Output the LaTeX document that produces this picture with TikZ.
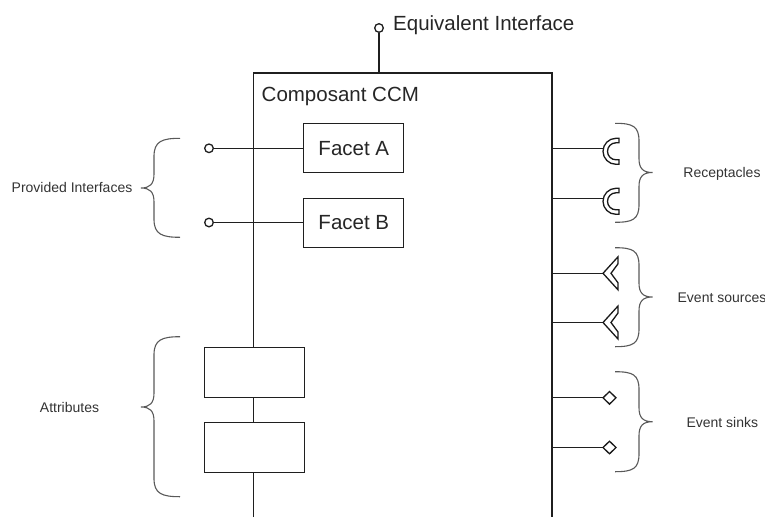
\documentclass[tikz,border=0pt]{standalone}
\usepackage{fontspec}
\setmainfont{Liberation Sans}
\newcommand\bigtxt{\fontsize{20.5}{24}\selectfont}
\newcommand\smtxt{\fontsize{14}{17}\selectfont}
\newcommand\mylbr[3]{\draw[bracestyle] (180,#1) .. controls (162,#1) and (154,#1+3) .. (154,#1+18) -- (154,#2-14) .. controls (154,#2-4) and (150,#2) .. (141,#2) .. controls (150,#2) and (154,#2+4) .. (154,#2+14) -- (154,#3-18) .. controls (154,#3-3) and (162,#3) .. (180,#3);}
\newcommand\myrbr[3]{\draw[bracestyle] (615,#1) .. controls (633,#1) and (639,#1+3) .. (639,#1+18) -- (639,#2-14) .. controls (639,#2-4) and (643,#2) .. (652.5,#2) .. controls (643,#2) and (639,#2+4) .. (639,#2+14) -- (639,#3-18) .. controls (639,#3-3) and (633,#3) .. (615,#3);}
\begin{document}
\begin{tikzpicture}[x=1pt,y=-1pt,
  wire/.style={draw=black!88, line width=1.1pt},
  fbox/.style={draw=black!88, line width=1pt, fill=white, minimum width=100pt, minimum height=49pt, inner sep=0pt, font=\bigtxt, text=black!85},
  port/.style={circle, draw=black!88, line width=1.3pt, fill=white, minimum size=8.6pt, inner sep=0pt},
  bracestyle/.style={draw=black!65, line width=1.1pt},
  sml/.style={font=\smtxt, text=black!80, inner sep=0pt, anchor=base},
  bigl/.style={font=\bigtxt, text=black!85, inner sep=0pt, anchor=base west},
  symb/.style={draw=black!90, line width=1.3pt, fill=white, line join=miter},
  recep/.pic={\path[symb] (16,-10) -- (13,-10) arc[start angle=270, end angle=90, radius=13] -- (16,16) -- (16,11.5) -- (13,11.5) arc[start angle=90, end angle=270, radius=8.5] -- (16,-5.5) -- cycle;},
  evsrc/.pic={\path[symb] (0,0) -- (15,-16.5) -- (15,-9.5) -- (8,0) -- (15,9.5) -- (15,16.5) -- cycle;},
  evsnk/.pic={\path[symb] (0,0) -- (6.5,-6.3) -- (13,0) -- (6.5,6.3) -- cycle;},
]
\useasboundingbox (0,0) rectangle (765,517);
% component
\coordinate (ctl) at (253.5,73);
\coordinate (ctr) at (552,73);
\coordinate (cbl) at (253.5,517);
\coordinate (cbr) at (552,517);
\draw[wire] (cbl) -- (ctl) -- (ctr) -- (cbr);
\node[bigl] (cname) at (261.5,101.5) {Composant CCM};
% equivalent interface
\node[port] (eq) at (379,28) {};
\coordinate (eqb) at (379,73);
\draw[wire] (eq) -- (eqb);
\node[bigl] (eqt) at (393,30.5) {Equivalent Interface};
% facets
\node[fbox] (fa) at (353.8,148.3) {Facet A};
\node[fbox] (fb) at (353.8,222.5) {Facet B};
\node[port] (pa) at (209,148.3) {};
\node[port] (pb) at (209,222.5) {};
\draw[wire] (pa) -- (fa);
\draw[wire] (pb) -- (fb);
% attributes
\node[fbox, minimum height=50pt] (at1) at (254,372) {};
\node[fbox, minimum height=50pt] (at2) at (254,447) {};
% right side ports
\foreach \i/\y/\p in {1/148.3/recep,2/198.3/recep,3/273.3/evsrc,4/322.5/evsrc,5/397.8/evsnk,6/447.5/evsnk}{
  \coordinate (rw\i) at (552,\y);
  \coordinate (re\i) at (603,\y);
  \draw[wire] (rw\i) -- (re\i);
  \pic at (re\i) {\p};
}
% braces
\mylbr{138.3}{188}{237.3}
\mylbr{336.7}{407}{496.7}
\myrbr{123.3}{172.5}{222.3}
\myrbr{247.7}{297}{346.7}
\myrbr{371.7}{421.7}{471.7}
% labels
\node[sml] (lpi) at (72,192.5) {Provided Interfaces};
\node[sml] (lat) at (69.5,412) {Attributes};
\node[sml] (lre) at (722,177) {Receptacles};
\node[sml] (les) at (722,302) {Event sources};
\node[sml] (lsk) at (722.3,427) {Event sinks};
\end{tikzpicture}
\end{document}
